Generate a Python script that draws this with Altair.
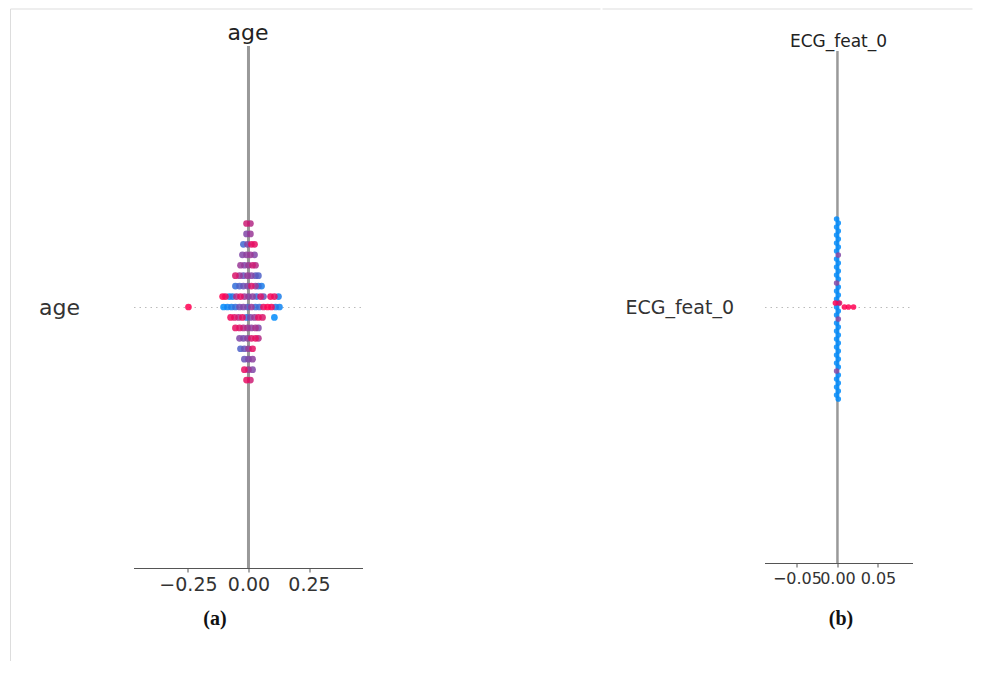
import altair as alt
import pandas as pd

# ---------------- data ----------------
# Panel (a): SHAP values of "age", drawn as stacked rows of the beeswarm
age_rows = [8, 7, 6, 5, 4, 3, 2, 1, 0, -1, -2, -3, -4, -5, -6, -7]
age_shap = [
    [-0.008, 0.008],
    [-0.008, 0.008],
    [-0.021, -0.004, 0.012, 0.025],
    [-0.025, -0.008, 0.008, 0.025],
    [-0.033, -0.017, 0.0, 0.017, 0.029],
    [-0.054, -0.037, -0.021, -0.004, 0.012, 0.029, 0.041],
    [-0.054, -0.037, -0.021, -0.004, 0.012, 0.029, 0.041, 0.054],
    [-0.107, -0.095, -0.079, -0.066, -0.050, -0.033, -0.017, 0.0, 0.017, 0.033, 0.050, 0.062, 0.091, 0.107, 0.124],
    [-0.248, -0.103, -0.087, -0.070, -0.054, -0.037, -0.021, -0.004, 0.012, 0.029, 0.045, 0.062, 0.079, 0.095, 0.112, 0.128],
    [-0.074, -0.058, -0.041, -0.025, -0.008, 0.008, 0.025, 0.041, 0.058, 0.107],
    [-0.054, -0.037, -0.021, -0.004, 0.012, 0.029, 0.041],
    [-0.037, -0.021, -0.004, 0.012, 0.029, 0.041],
    [-0.033, -0.017, 0.0, 0.017],
    [-0.017, 0.0, 0.017],
    [-0.017, 0.0, 0.017],
    [-0.008, 0.008],
]
# feature value (0 = low / blue, 1 = high / magenta)
age_value = [
    [0.8, 0.7],
    [0.5, 0.6],
    [0.25, 0.5, 0.9, 0.9],
    [0.5, 0.55, 0.6, 0.5],
    [0.6, 0.5, 0.6, 0.8, 0.7],
    [0.85, 0.6, 0.4, 0.6, 0.5, 0.35, 0.3],
    [0.2, 0.3, 0.4, 0.5, 0.85, 0.6, 0.2, 0.1],
    [1.0, 0.9, 0.05, 0.15, 0.7, 0.9, 0.6, 0.5, 0.55, 0.2, 0.85, 0.4, 0.95, 0.9, 0.1],
    [1.0, 0.0, 0.05, 0.1, 0.2, 0.45, 0.5, 0.3, 0.6, 0.2, 0.25, 0.9, 1.0, 0.95, 0.15, 0.05],
    [0.95, 0.85, 0.7, 0.9, 0.2, 0.5, 0.6, 0.9, 0.85, 0.0],
    [0.9, 0.85, 0.7, 0.6, 0.55, 0.65, 0.5],
    [0.5, 0.45, 0.55, 0.85, 0.9, 0.7],
    [0.3, 0.4, 0.6, 0.9],
    [0.4, 0.5, 0.55],
    [0.9, 0.6, 0.5],
    [0.9, 0.8],
]

# Panel (b): SHAP values of "ECG_feat_0"
ecg_y = [22, 21, 20, 19, 18, 17, 16, 15, 14, 13, 12, 11, 10, 9, 8, 7, 6, 5, 4, 3, 2, 1, 0,
         -1, -2, -3, -4, -5, -6, -7, -8, -9, -10, -11, -12, -13, -14, -15, -16, -17, -18,
         -19, -20, -21, -22, -23]
ecg_x = [-0.001, 0.001, -0.001, 0.001, -0.001, 0.001, -0.001, 0.001, -0.001, 0.001,
         -0.001, 0.001, -0.001, 0.001, -0.001, 0.001, -0.001, 0.001, -0.001, 0.001,
         -0.001, 0.001, -0.001, 0.001, -0.001, 0.001, -0.001, 0.001, -0.001, 0.001,
         -0.001, 0.001, -0.001, 0.001, -0.001, 0.001, -0.001, 0.001, -0.001, 0.001,
         -0.001, 0.001, -0.001, 0.001, -0.001, 0.001]
ecg_value = [0.0, 0.0, 0.0, 0.0, 0.0, 0.0, 0.0, 0.0, 0.0, 0.5, 0.0, 0.0, 0.0, 0.0, 0.0, 0.0,
             0.5, 0.0, 0.0, 0.0, 0.0, 0.0, 0.0, 0.0, 0.0, 0.5, 0.0, 0.0, 0.0, 0.0, 0.0, 0.0,
             0.0, 0.0, 0.0, 0.0, 0.0, 0.0, 0.5, 0.0, 0.0, 0.0, 0.0, 0.0, 0.0, 0.0]
ecg_hi_x = [-0.0025, 0.0025, 0.0086, 0.0136, 0.0198]
ecg_hi_y = [1, 1, 0, 0, 0]
ecg_hi_value = [1.0, 0.9, 1.0, 1.0, 1.0]

# ---------------- tables ----------------
recs = []
for r, xs, cs in zip(age_rows, age_shap, age_value):
    for x, c in zip(xs, cs):
        recs.append({"shap": x, "row": r, "val": c})
df_a = pd.DataFrame(recs)

df_b = pd.DataFrame({"shap": ecg_x + ecg_hi_x, "row": ecg_y + ecg_hi_y,
                     "val": ecg_value + ecg_hi_value})

zero = pd.DataFrame({"shap": [0.0]})
one = pd.DataFrame({"k": [0]})

FONT = "DejaVu Sans"
color_scale = alt.Scale(domain=[0, 1], range=["#008bfb", "#ff0052"], interpolate="rgb")
minus_expr = "datum.value < 0 ? '\u2212' + format(-datum.value, '.2f') : format(datum.value, '.2f')"


def panel(df, W, H, xdom, ticks, ydom, label, lab_pad, lab_size, tick_size, caption, cap_x, cap_y,
          title_size, title_y, pt_size, zero_w, zero_top, left_border, top_from, top_to, top_y):
    xscale = alt.Scale(domain=xdom, nice=False, zero=False)
    xaxis = alt.Axis(values=ticks, labelExpr=minus_expr, grid=False, domainColor="#555",
                     domainWidth=1.2, tickColor="#555", tickSize=4, labelFontSize=tick_size,
                     labelColor="#333", labelPadding=3, labelOverlap=False, labelFlush=False,
                     labelFont=FONT, title=caption, titleFont="Liberation Serif",
                     titleFontWeight="bold", titleFontSize=20, titleColor="#111",
                     titleX=cap_x, titleY=cap_y, titleBaseline="alphabetic", titleAlign="center",
                     titleAnchor="start")
    yscale = alt.Scale(domain=ydom, nice=False, zero=False)
    yaxis = alt.Axis(values=[0], labelExpr="'" + label + "'", grid=True, gridDash=[1.5, 4],
                     gridColor="#bbbbbb", gridWidth=1, domain=False, ticks=False,
                     labelPadding=lab_pad, labelFontSize=lab_size, labelColor="#333",
                     labelFont=FONT, title=None)

    zero_rule = alt.Chart(zero).mark_rule(color="#999999", strokeWidth=zero_w).encode(
        x=alt.X("shap:Q", scale=xscale, axis=xaxis, title=caption),
        y=alt.value(zero_top), y2=alt.value(H))
    pts = alt.Chart(df).mark_circle(size=pt_size, opacity=0.85).encode(
        x=alt.X("shap:Q", scale=xscale, axis=xaxis, title=caption),
        y=alt.Y("row:Q", scale=yscale, axis=yaxis),
        color=alt.Color("val:Q", scale=color_scale, legend=None),
        order=alt.Order("val:Q"),
    )
    ttl = alt.Chart(one).mark_text(text=label, fontSize=title_size, font=FONT,
                                   baseline="alphabetic", align="center", color="#222").encode(
        x=alt.value(W / 2), y=alt.value(title_y))
    top_line = alt.Chart(one).mark_rule(color="#dddddd", strokeWidth=1).encode(
        x=alt.value(top_from), x2=alt.value(top_to), y=alt.value(top_y))
    layers = [top_line, zero_rule, pts, ttl]
    if left_border is not None:
        left_line = alt.Chart(one).mark_rule(color="#dddddd", strokeWidth=1).encode(
            x=alt.value(top_from), y=alt.value(top_y), y2=alt.value(left_border))
        layers.insert(0, left_line)
    return alt.layer(*layers).properties(width=W, height=H)


pa = panel(df_a, 229, 522, [-0.475, 0.471], [-0.25, 0.0, 0.25], [-25, 25], "age", 54, 22, 19,
           "(a)", 81, 56, 22, -6, 45, 3, 0, 615, -123, 467, -37)
pb = panel(df_b, 148, 517, [-0.090, 0.0926], [-0.05, 0.0, 0.05], [-64, 65.25], "ECG_feat_0", 31, 19,
           16, "(b)", 76, 61, 17, 1, 32, 2.5, 5, None, -162, 208, -37)

chart = alt.concat(pa, pb, columns=2, spacing=0).properties(
    padding={"left": 1.5, "top": 0, "right": 0, "bottom": 0}, background="white"
).configure(font=FONT).configure_view(strokeWidth=0)

chart.save("out.html", embed_options={"renderer": "svg", "actions": False})
